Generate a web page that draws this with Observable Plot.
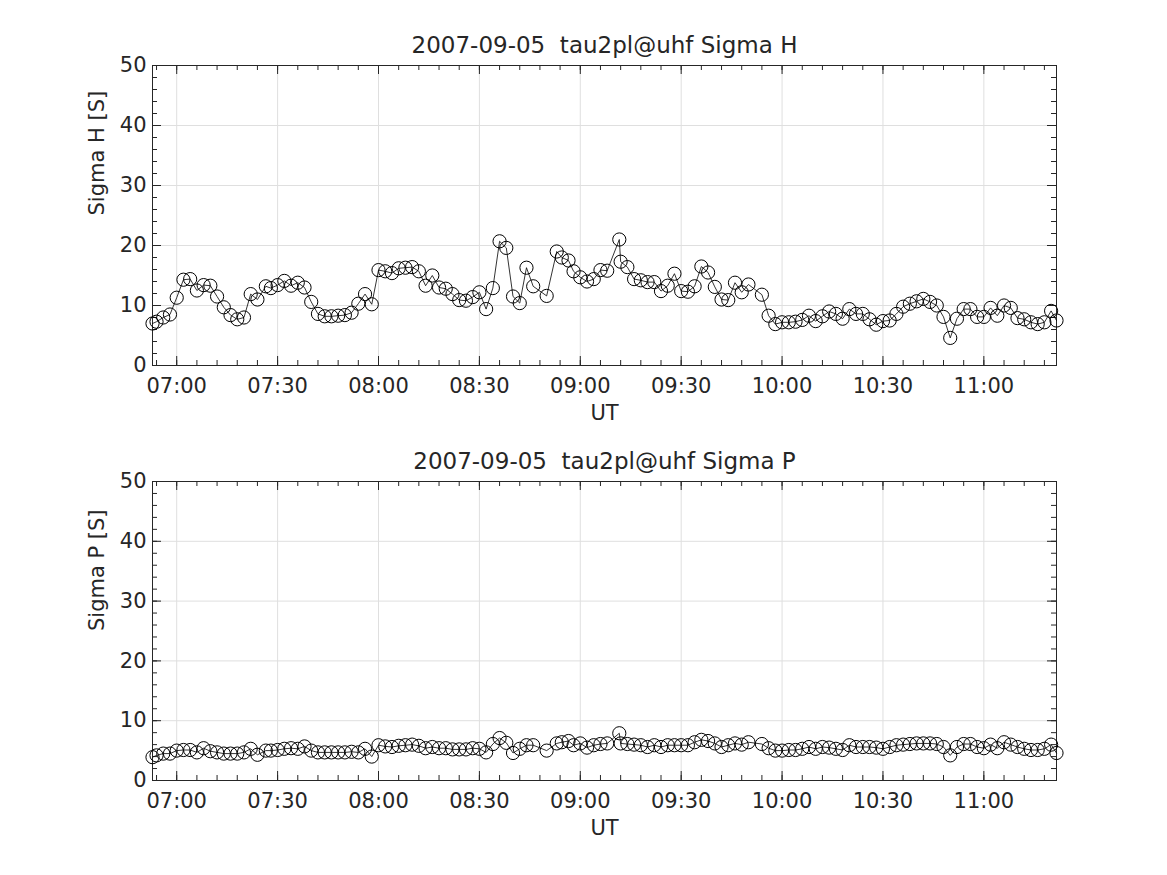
<!DOCTYPE html>
<html><head><meta charset="utf-8">
<script src="https://cdn.jsdelivr.net/npm/d3@7"></script>
<script src="https://cdn.jsdelivr.net/npm/@observablehq/plot@0.6"></script>
<style>
body{margin:0;background:#fff;}
#chart{width:1167px;height:875px;overflow:hidden;}
#chart svg{display:block;}
</style>
</head><body><div id="chart"></div><script>
// ---- data (minutes after 07:00 UT, 2007-09-05) ----
const minutesFrom0700 = [
  -7.2,-6,-4,-2,
  0,2,4,6,8,10,12,14,16,18,20,22,24,
  26.5,
  28,30,32,34,36,38,40,42,44,46, 48,50,52,54,56,58,60,62,64,66,
  68,70,72,74,76,78,80,82,84,86, 88,90,92,94,96,98,100,102,104,106,
  110,
  113,114.5,116.5,
  118,120,122,124,126,128,
  131.6,
  132,134,136,138,140,142,144,146,148,150, 152,154,156,158,160,162,164,166,168,170,
  174,176,178,180,182,184,186,188,190,192, 194,196,198,200,202,204,206,208,210,212,
  214,216,218,220,222,224,226,228,230,232, 234,236,238,240,242,244,246,248,250,252,
  254,256,258,260,
  261.6
];
const sigmaH = [
  7.0,7.3,8.0,8.5,
  11.3,14.3,14.4,12.5,13.4,13.3,11.5,9.7,8.4,7.7,8.0,11.9,11.0,
  13.2,
  12.9,13.4,14.1,13.3,13.8,13.0,10.6,8.6,8.2,8.2, 8.3,8.4,8.8,10.3,11.9,10.2,15.9,15.7,15.4,16.2,
  16.3,16.4,15.7,13.3,15.0,13.0,12.8,11.9,10.9,10.8, 11.4,12.2,9.4,12.9,20.7,19.6,11.5,10.4,16.3,13.2,
  11.6,
  19.0,18.0,17.5,
  15.7,14.7,14.0,14.4,15.9,15.8,
  21.0,
  17.3,16.4,14.4,14.2,13.9,13.9,12.4,13.3,15.3,12.4, 12.3,13.2,16.5,15.5,13.1,11.0,10.9,13.8,12.2,13.5,
  11.8,8.3,6.9,7.2,7.2,7.3,7.6,8.3,7.4,8.2, 9.0,8.6,7.8,9.4,8.6,8.6,7.7,6.8,7.4,7.5,
  8.6,9.8,10.3,10.7,11.1,10.6,10.0,8.1,4.6,7.8, 9.4,9.4,8.1,8.1,9.6,8.3,10.0,9.6,7.9,7.7,
  7.2,6.9,7.2,9.1,
  7.5
];
const sigmaP = [
  3.9,4.2,4.5,4.5,
  5.0,5.1,5.1,4.7,5.4,4.9,4.7,4.5,4.5,4.5,4.7,5.3,4.3,
  5.0,
  5.0,5.1,5.3,5.4,5.3,5.7,5.0,4.7,4.7,4.7, 4.7,4.7,4.8,4.7,5.3,4.0,5.9,5.7,5.6,5.8,
  5.9,6.0,5.8,5.4,5.6,5.4,5.4,5.2,5.2,5.2, 5.4,5.3,4.7,6.1,7.1,6.3,4.6,5.3,5.9,5.9,
  5.0,
  6.2,6.4,6.6,
  5.9,6.2,5.5,5.9,6.1,6.2,
  7.9,
  6.2,6.1,6.0,5.9,5.6,5.9,5.6,5.9,5.9,5.9, 5.9,6.4,6.8,6.6,6.2,5.6,5.9,6.2,6.0,6.4,
  6.1,5.4,5.0,5.0,5.1,5.1,5.3,5.6,5.3,5.6, 5.5,5.3,5.1,5.9,5.6,5.6,5.6,5.5,5.3,5.6,
  5.9,6.0,6.1,6.2,6.2,6.2,6.1,5.6,4.2,5.6, 6.1,6.1,5.6,5.4,6.0,5.4,6.4,6.0,5.6,5.3,
  5.1,5.1,5.3,6.0,
  4.6
];
const xTickLabels = ["07:00","07:30","08:00","08:30","09:00","09:30","10:00","10:30","11:00"];
const yTicks = [0,10,20,30,40,50];
const titles = ["2007-09-05\u00a0 tau2pl@uhf Sigma H", "2007-09-05\u00a0 tau2pl@uhf Sigma P"];
const yLabels = ["Sigma H [S]", "Sigma P [S]"];
const xLabel = "UT";

// ---- layout / style ----
const W = 1167, ML = 152, MR = 111;
const INK = "#262626", GRID = "#dfdfdf";
const FONT = "DejaVu Sans";
const base = Date.UTC(2007, 8, 5, 7, 0, 0);
const toDate = m => new Date(base + m * 60000);
const majorX = xTickLabels.map(s => new Date(`2007-09-05T${s}:00Z`));

function panel(values, title, ylabel, height, mt, mb) {
  const fh = height - mt - mb, fw = W - ML - MR;
  const data = minutesFrom0700.map((m, i) => ({t: toDate(m), v: values[i]}));
  const dom = d3.extent(data, d => d.t);
  const minorX = d3.utcMinute.every(6).range(dom[0], dom[1]);
  const minorY = d3.range(0, 51, 2);
  const tk = {stroke: INK, strokeWidth: 1};
  return Plot.plot({
    width: W, height, marginTop: mt, marginBottom: mb, marginLeft: ML, marginRight: MR,
    style: {fontFamily: FONT, fontSize: "21px", color: INK, background: "white"},
    x: {type: "utc", domain: dom},
    y: {domain: [0, 50]},
    marks: [
      Plot.gridX(majorX, {stroke: GRID, strokeOpacity: 1}),
      Plot.gridY(yTicks.slice(1, -1), {stroke: GRID, strokeOpacity: 1}),
      Plot.tickX(minorX, {x: d => d, ...tk, insetTop: fh - 5}),
      Plot.tickX(minorX, {x: d => d, ...tk, insetBottom: fh - 5}),
      Plot.tickX(majorX, {x: d => d, ...tk, insetTop: fh - 9}),
      Plot.tickX(majorX, {x: d => d, ...tk, insetBottom: fh - 9}),
      Plot.tickY(minorY, {y: d => d, ...tk, insetRight: fw - 5}),
      Plot.tickY(minorY, {y: d => d, ...tk, insetLeft: fw - 5}),
      Plot.tickY(yTicks, {y: d => d, ...tk, insetRight: fw - 9}),
      Plot.tickY(yTicks, {y: d => d, ...tk, insetLeft: fw - 9}),
      Plot.frame({stroke: INK, strokeWidth: 1}),
      Plot.axisX({ticks: majorX, tickSize: 0, tickPadding: 13, tickFormat: d3.utcFormat("%H:%M"), label: null, fontSize: 21}),
      Plot.axisY({ticks: yTicks, tickSize: 0, tickPadding: 6, label: null, fontSize: 21}),
      Plot.line(data, {x: "t", y: "v", stroke: "black", strokeWidth: 0.8}),
      Plot.dot(data, {x: "t", y: "v", r: 6.6, stroke: "black", strokeWidth: 1, fill: "none"}),
      Plot.text([title], {text: d => d, frameAnchor: "top", lineAnchor: "middle", dy: -20, fontSize: 23, fill: INK}),
      Plot.text([ylabel], {text: d => d, frameAnchor: "left", lineAnchor: "middle", dx: -55, rotate: -90, fontSize: 21, fill: INK}),
      Plot.text([xLabel], {text: d => d, frameAnchor: "bottom", lineAnchor: "middle", dy: 48, fontSize: 21, fill: INK})
    ]
  });
}

const root = document.getElementById("chart");
root.append(panel(sigmaH, titles[0], yLabels[0], 437, 65, 72));
root.append(panel(sigmaP, titles[1], yLabels[1], 438, 44, 95));
</script></body></html>
